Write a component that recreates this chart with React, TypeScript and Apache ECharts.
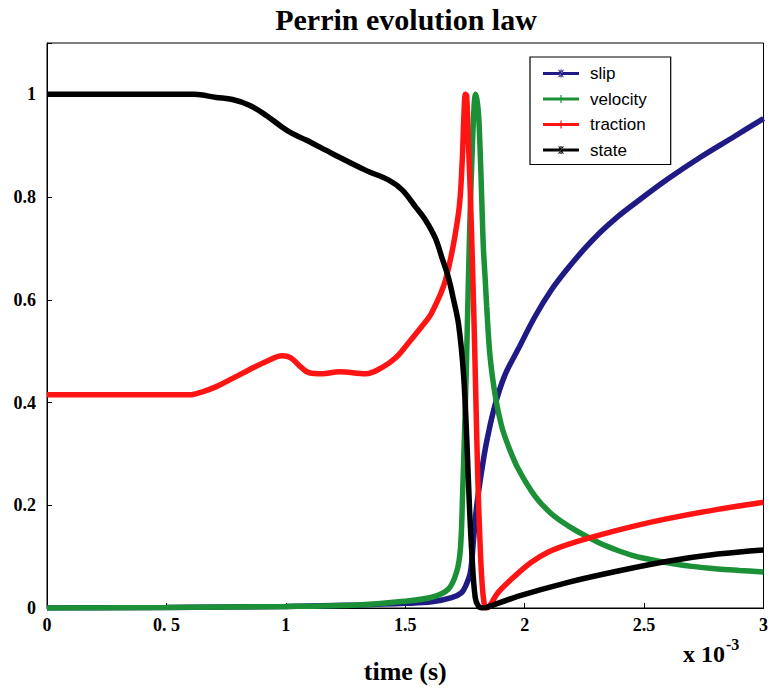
import React, { useEffect, useRef } from 'react';
import * as echarts from 'echarts';

// ---- data (time in units of 1e-3 s) ----
const xTickLabels = ['0', '0. 5', '1', '1.5', '2', '2.5', '3'];
const yTickLabels = ['0', '0.2', '0.4', '0.6', '0.8', '1'];
const seriesNames = ['slip', 'velocity', 'traction', 'state'];

const slipTime = [0, 0.5, 1.0, 1.3, 1.5, 1.611, 1.694, 1.736, 1.755, 1.773, 1.786, 1.799, 1.819, 1.84, 1.874, 1.916, 1.974, 2.044, 2.113, 2.182, 2.25, 2.32, 2.39, 2.462, 2.599, 2.737, 2.878, 3.0];
const slip = [0, 0.001, 0.003, 0.006, 0.009, 0.012, 0.02, 0.03, 0.045, 0.07, 0.134, 0.198, 0.264, 0.322, 0.392, 0.452, 0.505, 0.568, 0.62, 0.662, 0.699, 0.733, 0.762, 0.788, 0.835, 0.878, 0.918, 0.953];

const velTime = [0, 0.5, 1.0, 1.3, 1.473, 1.611, 1.681, 1.715, 1.731, 1.74, 1.752, 1.757, 1.765, 1.773, 1.782, 1.788, 1.794, 1.8, 1.807, 1.813, 1.82, 1.827, 1.835, 1.841, 1.855, 1.878, 1.903, 1.932, 1.974, 2.043, 2.113, 2.182, 2.253, 2.32, 2.39, 2.462, 2.53, 2.599, 2.7, 2.808, 2.9, 3.0];
const velocity = [0, 0.001, 0.003, 0.006, 0.012, 0.021, 0.037, 0.07, 0.115, 0.22, 0.4, 0.49, 0.65, 0.79, 0.91, 0.975, 1.0, 0.99, 0.96, 0.898, 0.8, 0.703, 0.638, 0.587, 0.49, 0.41, 0.355, 0.315, 0.27, 0.218, 0.183, 0.16, 0.141, 0.125, 0.112, 0.101, 0.094, 0.088, 0.081, 0.076, 0.073, 0.07];

const tracTime = [0, 0.597, 0.651, 0.709, 0.777, 0.847, 0.918, 0.985, 1.021, 1.056, 1.098, 1.153, 1.223, 1.335, 1.402, 1.46, 1.515, 1.569, 1.611, 1.669, 1.723, 1.738, 1.746, 1.752, 1.757, 1.765, 1.773, 1.782, 1.79, 1.797, 1.804, 1.812, 1.82, 1.83, 1.84, 1.89, 1.961, 2.028, 2.099, 2.182, 2.32, 2.462, 2.599, 2.808, 3.0];
const traction = [0.415, 0.415, 0.421, 0.431, 0.447, 0.464, 0.48, 0.491, 0.487, 0.472, 0.458, 0.456, 0.46, 0.456, 0.468, 0.487, 0.517, 0.548, 0.575, 0.639, 0.769, 0.865, 0.963, 1.0, 0.998, 0.9, 0.8, 0.66, 0.52, 0.38, 0.25, 0.14, 0.06, 0.01, 0.0, 0.031, 0.063, 0.089, 0.109, 0.124, 0.143, 0.16, 0.174, 0.192, 0.206];

const stateTime = [0, 0.617, 0.709, 0.777, 0.847, 0.918, 0.985, 1.026, 1.085, 1.193, 1.335, 1.431, 1.487, 1.543, 1.585, 1.626, 1.655, 1.681, 1.7, 1.723, 1.744, 1.758, 1.769, 1.78, 1.793, 1.807, 1.825, 1.84, 1.974, 2.182, 2.391, 2.599, 2.808, 3.0];
const state = [1, 1, 0.994, 0.99, 0.979, 0.959, 0.936, 0.924, 0.911, 0.885, 0.852, 0.833, 0.814, 0.781, 0.755, 0.72, 0.68, 0.643, 0.605, 0.553, 0.455, 0.325, 0.195, 0.097, 0.02, 0.003, 0.0, 0.001, 0.023, 0.05, 0.072, 0.091, 0.105, 0.113];

const colors = ['#1f1a84', '#1b9036', '#ff1414', '#000000'];

const pair = (xs: number[], ys: number[]) => xs.map((x, i) => [x, ys[i]]);

const plusIcon = 'path://M0,4.5H36V7.5H0Z M17.4,2H18.6V10H17.4Z';
const starIcon = 'path://M0,4.5H36V7.5H0Z M17.4,2H18.6V10H17.4Z M15.2,2.6L16,2L20.8,9.4L20,10Z M20.8,2.6L20,2L15.2,9.4L16,10Z';
const icons = [starIcon, plusIcon, plusIcon, starIcon];

const serif = '"Liberation Serif", "Times New Roman", serif';

export default function App() {
  const ref = useRef<HTMLDivElement>(null);
  useEffect(() => {
    if (!ref.current) return;
    const chart = echarts.init(ref.current, undefined, { renderer: 'svg' });
    const datasets = [pair(slipTime, slip), pair(velTime, velocity), pair(tracTime, traction), pair(stateTime, state)];
    chart.setOption({
      animation: false,
      backgroundColor: '#ffffff',
      title: {
        text: 'Perrin evolution law',
        left: 406,
        top: 4,
        textAlign: 'center',
        padding: 0,
        textStyle: { fontFamily: serif, fontWeight: 'bold', fontSize: 30, color: '#000' },
      },
      grid: {
        left: 47, right: 5, top: 43, bottom: 80,
        show: true, borderColor: '#000', borderWidth: 1, backgroundColor: 'transparent',
      },
      legend: {
        data: seriesNames.map((n, i) => ({ name: n, icon: icons[i] })),
        orient: 'vertical',
        left: 530,
        top: 57,
        padding: [8, 24, 6, 13],
        itemGap: 8.5,
        itemWidth: 36,
        itemHeight: 12,
        borderColor: '#000',
        borderWidth: 1.2,
        backgroundColor: '#fff',
        itemStyle: { borderWidth: 0 },
        textStyle: { fontFamily: '"Liberation Sans", Arial, sans-serif', fontSize: 17, color: '#000', padding: [0, 0, 0, 6] },
      },
      xAxis: {
        type: 'value',
        min: 0, max: 3, interval: 0.5,
        name: 'time (s)',
        nameLocation: 'middle',
        nameGap: 50,
        nameTextStyle: { fontFamily: serif, fontWeight: 'bold', fontSize: 26, color: '#000' },
        axisLine: { show: true, onZero: false, lineStyle: { color: '#000', width: 1 } },
        axisTick: { show: true, inside: true, length: 5, lineStyle: { color: '#000' } },
        splitLine: { show: false },
        axisLabel: {
          margin: 8,
          fontFamily: serif, fontWeight: 'bold', fontSize: 18, color: '#000',
          formatter: (v: number) => xTickLabels[Math.round(v / 0.5)] ?? '',
        },
      },
      yAxis: {
        type: 'value',
        min: 0, max: 1.1, interval: 0.2,
        axisLine: { show: true, lineStyle: { color: '#000', width: 1 } },
        axisTick: { show: true, inside: true, length: 5, lineStyle: { color: '#000' } },
        splitLine: { show: false },
        axisLabel: {
          margin: 11,
          fontFamily: serif, fontWeight: 'bold', fontSize: 18, color: '#000',
          formatter: (v: number) => (v > 1.05 ? '' : yTickLabels[Math.round(v / 0.2)] ?? ''),
        },
      },
      graphic: [
        { type: 'text', left: 683, top: 642, style: { text: 'x 10', font: `bold 24px ${serif}`, fill: '#000' } },
        { type: 'text', left: 726, top: 636, style: { text: '-3', font: `bold 16px ${serif}`, fill: '#000' } },
      ],
      series: seriesNames.map((n, i) => ({
        name: n,
        type: 'line',
        data: datasets[i],
        showSymbol: false,
        smooth: 0.35,
        color: colors[i],
        itemStyle: { color: colors[i] },
        lineStyle: { color: colors[i], width: 5.5 },
        clip: true,
      })),
    });
    return () => chart.dispose();
  }, []);
  return <div ref={ref} style={{ position: 'absolute', left: 0, top: 0, width: 771, height: 689 }} />;
}
